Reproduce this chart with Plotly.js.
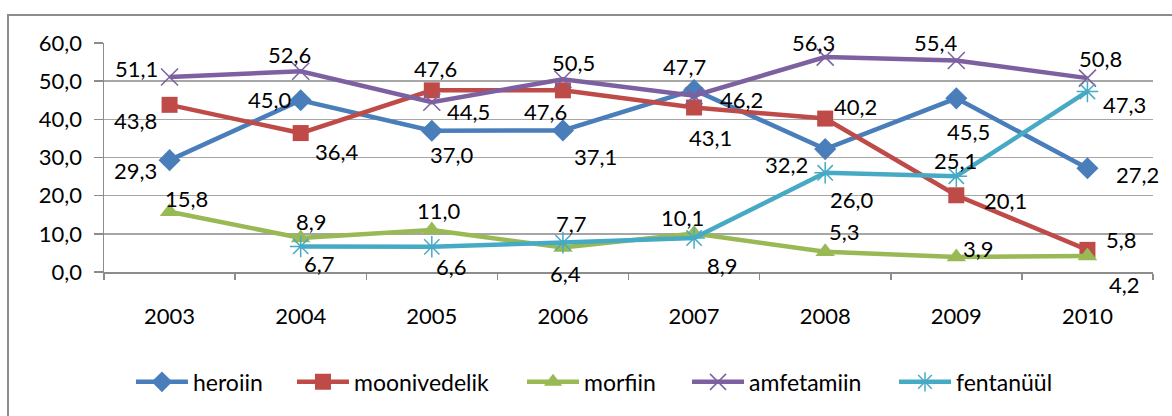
<!DOCTYPE html>
<html><head><meta charset="utf-8">
<script src="https://cdn.plot.ly/plotly-3.0.1.min.js"></script>
<style>
body{margin:0;padding:0;background:#fff;}
#frame{position:absolute;left:7px;top:14px;width:1200px;height:450px;border:2px solid #8c8c8c;}
#chart{position:absolute;left:0;top:0;width:1172px;height:416px;}
</style></head>
<body>
<div id="frame"></div>
<div id="chart"></div>
<script>
const years = ['2003','2004','2005','2006','2007','2008','2009','2010'];
const heroiin = [29.3, 45.0, 37.0, 37.1, 47.7, 32.2, 45.5, 27.2];
const moonivedelik = [43.8, 36.4, 47.6, 47.6, 43.1, 40.2, 20.1, 5.8];
const morfiin = [15.8, 8.9, 11.0, 6.4, 10.1, 5.3, 3.9, 4.2];
const amfetamiin = [51.1, 52.6, 44.5, 50.5, 46.2, 56.3, 55.4, 50.8];
const fentanyyl = [null, 6.7, 6.6, 7.7, 8.9, 26.0, 25.1, 47.3];
const yTicks = [0, 10, 20, 30, 40, 50, 60];

// label offsets (px) relative to each point: [dx, dy] with dy positive downward
const offHer = [[-34,10],[-31,-1],[20,24],[33,26],[-10,-23],[-39,15],[12,33],[50,6]];
const offMoo = [[-34,16],[36,18],[4,-22],[-17,21],[16,30],[30,-12],[49,5],[34,-10]];
const offMor = [[17,-13],[11,-17],[7,-20],[3,26],[-12,-16],[19,-20],[22,-9],[37,29]];
const offAmf = [[-33,-8],[-11,-17],[37,9],[11,-17],[47,4],[-12,-15],[-20,-18],[13,-20]];
const offFen = [[0,0],[19,17],[20,20],[9,-19],[28,27],[27,27],[-1,-16],[37,13]];

const font = 'Lato, "Open Sans", sans-serif';
const series = [
  {name: 'heroiin', y: heroiin, color: '#4a7ebb', symbol: 'diamond', size: 17, lw: 0, off: offHer},
  {name: 'moonivedelik', y: moonivedelik, color: '#be4b48', symbol: 'square', size: 16, lw: 0, off: offMoo},
  {name: 'morfiin', y: morfiin, color: '#98b954', symbol: 'triangle-up', size: 17, lw: 0, off: offMor},
  {name: 'amfetamiin', y: amfetamiin, color: '#7d60a0', symbol: 'x-thin-open', size: 17, lw: 1.5, off: offAmf},
  {name: 'fentanüül', y: fentanyyl, color: '#46aac5', symbol: 'asterisk-open', size: 18, lw: 1.5, off: offFen}
];
const legendX = [0.0257, 0.1792, 0.3985, 0.5558, 0.7531];

const data = [];
const annotations = [];
series.forEach((s, k) => {
  data.push({
    x: years, y: s.y, name: s.name, type: 'scatter', mode: 'lines+markers',
    line: {color: s.color, width: 4.5},
    marker: {symbol: s.symbol, size: s.size, color: s.color, line: {color: s.color, width: s.lw}},
    cliponaxis: false, connectgaps: false,
    legend: k === 0 ? 'legend' : 'legend' + (k + 1)
  });
  s.y.forEach((v, i) => {
    if (v === null) return;
    annotations.push({
      x: i, y: v, xref: 'x', yref: 'y', showarrow: false,
      text: v.toFixed(1).replace('.', ','),
      xanchor: 'center', yanchor: 'middle',
      xshift: s.off[i][0], yshift: -s.off[i][1],
      font: {family: font, size: 22, color: '#000'}
    });
  });
});

const layout = {
  width: 1172, height: 416,
  margin: {l: 104, r: 19, t: 43, b: 144, autoexpand: false},
  paper_bgcolor: 'rgba(0,0,0,0)', plot_bgcolor: 'rgba(0,0,0,0)',
  separators: ',.',
  font: {family: font, size: 22, color: '#000'},
  showlegend: true,
  annotations: annotations,
  xaxis: {type: 'category', range: [-0.5, 7.5], showgrid: false, showline: true, linecolor: '#8c8c8c', linewidth: 1.5,
          ticks: 'outside', tickson: 'boundaries', ticklen: 6, tickcolor: '#8c8c8c', tickwidth: 1.5,
          ticklabelstandoff: 24, tickfont: {family: font, size: 22}, zeroline: false, fixedrange: true},
  yaxis: {range: [0, 60], tickvals: yTicks, tickformat: '.1f', showgrid: true, gridcolor: '#a6a6a6', gridwidth: 1.5,
          showline: true, linecolor: '#8c8c8c', linewidth: 1.5, ticks: 'outside', ticklen: 9, tickcolor: '#8c8c8c', tickwidth: 1.5,
          ticklabelstandoff: 7, tickfont: {family: font, size: 22}, zeroline: false, fixedrange: true}
};
legendX.forEach((lx, k) => {
  const key = k === 0 ? 'legend' : 'legend' + (k + 1);
  layout[key] = {orientation: 'h', x: lx, xanchor: 'left', y: -0.48, yanchor: 'middle',
                 font: {family: font, size: 23, color: '#000'}, itemwidth: 52, bgcolor: 'rgba(0,0,0,0)'};
});
Plotly.newPlot('chart', data, layout, {staticPlot: true, displayModeBar: false});
</script>
</body></html>
